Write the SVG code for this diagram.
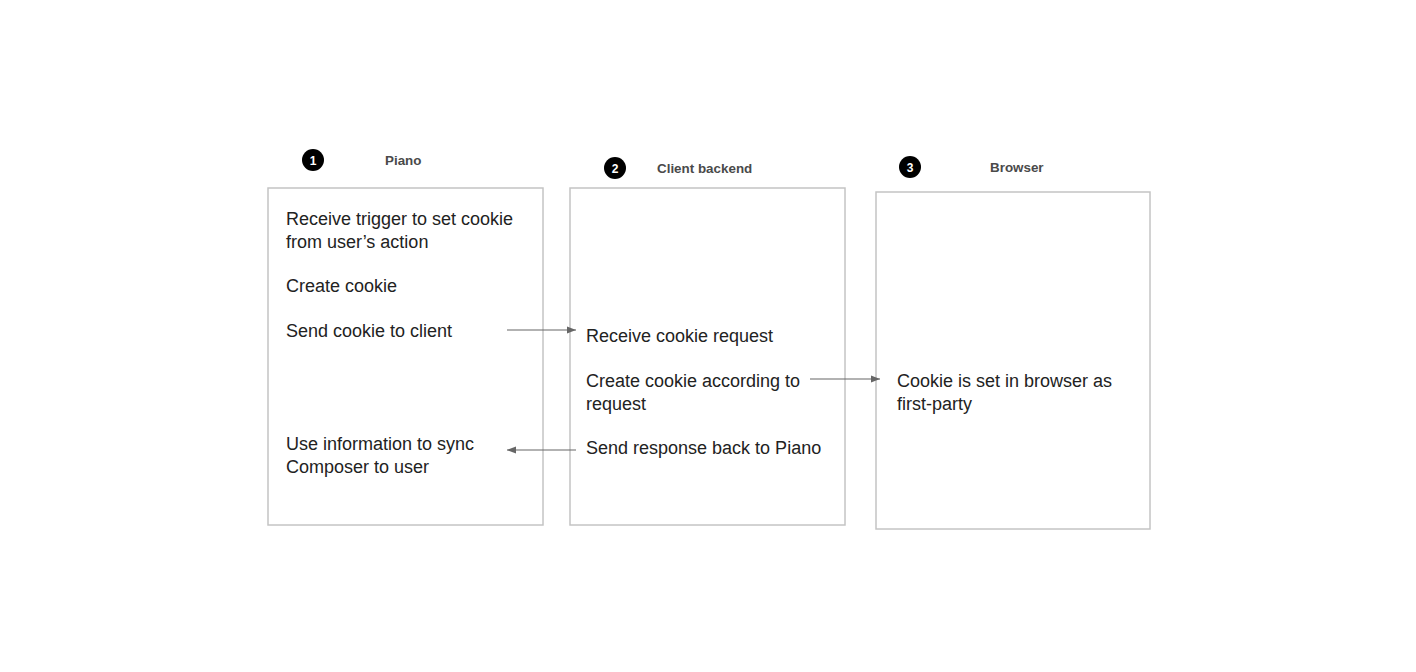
<svg xmlns="http://www.w3.org/2000/svg" width="1416" height="672" viewBox="0 0 1416 672">
  <style>
    .box { fill: #ffffff; stroke: #c4c4c4; stroke-width: 1.5; }
    .badge { fill: #000000; }
    .num { font-family: "Liberation Sans", Arial, sans-serif; font-size: 12px; font-weight: bold; fill: #ffffff; text-anchor: middle; }
    .head { font-family: "Liberation Sans", Arial, sans-serif; font-size: 13.4px; font-weight: bold; fill: #4a4a4a; }
    .body { font-family: "Liberation Sans", Arial, sans-serif; font-size: 18px; fill: #222222; }
    .conn { stroke: #666666; stroke-width: 1.2; fill: none; marker-end: url(#arrow); }
  </style>
  <defs>
    <marker id="arrow" viewBox="0 0 10 10" refX="10" refY="5" markerWidth="10" markerHeight="9" markerUnits="userSpaceOnUse" orient="auto">
      <path d="M0,1 L10,5 L0,9 z" fill="#666666"/>
    </marker>
  </defs>
  <rect width="1416" height="672" fill="#ffffff"/>

  <g id="piano">
    <circle class="badge" cx="313" cy="160" r="11"/>
    <text class="num" x="313" y="164.5">1</text>
    <text class="head" x="385" y="165">Piano</text>
    <rect class="box" x="268" y="188" width="275" height="337"/>
    <text class="body" x="286" y="225">Receive trigger to set cookie</text>
    <text class="body" x="286" y="248">from user’s action</text>
    <text class="body" x="286" y="292">Create cookie</text>
    <text class="body" x="286" y="337">Send cookie to client</text>
    <text class="body" x="286" y="450">Use information to sync</text>
    <text class="body" x="286" y="473">Composer to user</text>
  </g>

  <g id="client-backend">
    <circle class="badge" cx="615" cy="168" r="11"/>
    <text class="num" x="615" y="172.5">2</text>
    <text class="head" x="657" y="173">Client backend</text>
    <rect class="box" x="570" y="188" width="275" height="337"/>
    <text class="body" x="586" y="342">Receive cookie request</text>
    <text class="body" x="586" y="387">Create cookie according to</text>
    <text class="body" x="586" y="410">request</text>
    <text class="body" x="586" y="454">Send response back to Piano</text>
  </g>

  <g id="browser">
    <circle class="badge" cx="910" cy="167" r="11"/>
    <text class="num" x="910" y="171.5">3</text>
    <text class="head" x="990" y="172">Browser</text>
    <rect class="box" x="876" y="192" width="274" height="337"/>
    <text class="body" x="897" y="387">Cookie is set in browser as</text>
    <text class="body" x="897" y="410">first-party</text>
  </g>

  <g id="connectors">
    <line class="conn" x1="507" y1="330" x2="576" y2="330"/>
    <line class="conn" x1="810" y1="379" x2="880" y2="379"/>
    <line class="conn" x1="576" y1="450" x2="507" y2="450"/>
  </g>
</svg>
